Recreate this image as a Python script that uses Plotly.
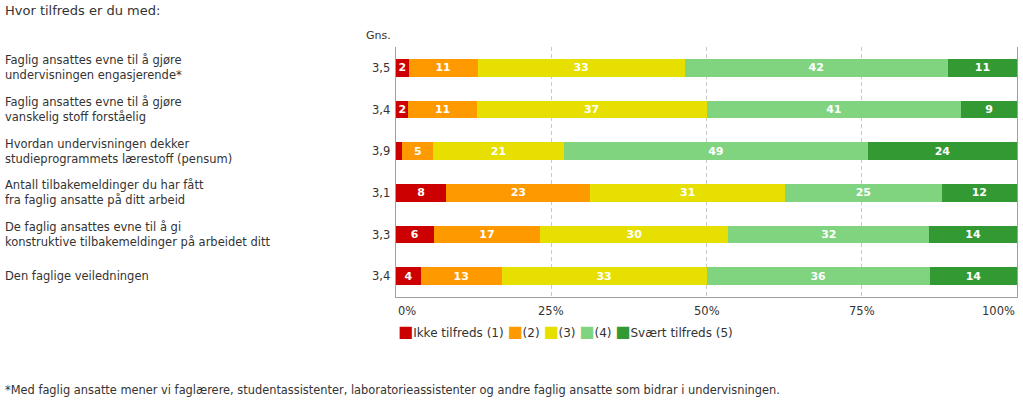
import plotly.graph_objects as go

title = "Hvor tilfreds er du med:"
questions = [
    "Faglig ansattes evne til å gjøre<br>undervisningen engasjerende*",
    "Faglig ansattes evne til å gjøre<br>vanskelig stoff forståelig",
    "Hvordan undervisningen dekker<br>studieprogrammets lærestoff (pensum)",
    "Antall tilbakemeldinger du har fått<br>fra faglig ansatte på ditt arbeid",
    "De faglig ansattes evne til å gi<br>konstruktive tilbakemeldinger på arbeidet ditt",
    "Den faglige veiledningen",
]
averages = ["3,5", "3,4", "3,9", "3,1", "3,3", "3,4"]
levels = ["Ikke tilfreds (1)", "(2)", "(3)", "(4)", "Svært tilfreds (5)"]
colors = ["#CC0000", "#FF9900", "#E6DF00", "#80D480", "#339933"]
v1 = [2, 2, 1, 8, 6, 4]
v2 = [11, 11, 5, 23, 17, 13]
v3 = [33, 37, 21, 31, 30, 33]
v4 = [42, 41, 49, 25, 32, 36]
v5 = [11, 9, 24, 12, 14, 14]
series = [v1, v2, v3, v4, v5]
tick_vals = [0, 25, 50, 75, 100]
tick_text = ["0%", "25%", "50%", "75%", "100%"]
footnote = ("*Med faglig ansatte mener vi faglærere, studentassistenter, "
            "laboratorieassistenter og andre faglig ansatte som bidrar i undervisningen.")

FONT = "Verdana, DejaVu Sans, sans-serif"
TXT = "#333333"

W, H = 1023, 407
L, R, T, B = 396, 6, 47, 110
PW, PH = W - L - R, H - T - B

def px(xp):
    return (xp - L) / PW

def py(yp):
    return (H - B - yp) / PH

fig = go.Figure()
ids = list(range(len(questions)))
for name, vals, col in zip(levels, series, colors):
    fig.add_trace(go.Bar(
        y=ids, x=vals, orientation="h", name=name,
        marker=dict(color=col, line=dict(width=0)),
        width=0.43,
        text=[str(v) if v >= 2 else "" for v in vals],
        textposition="inside", insidetextanchor="middle", textangle=0,
        textfont=dict(color="white", size=11, family=FONT, weight="bold"),
        hoverinfo="skip", showlegend=False,
    ))

ann = []
for i, (q, a) in enumerate(zip(questions, averages)):
    ann.append(dict(x=px(3), y=i, xref="paper", yref="y", text=q, showarrow=False,
                    xanchor="left", yanchor="middle", align="left",
                    font=dict(family=FONT, size=11.5, color=TXT)))
    ann.append(dict(x=px(392), y=i, xref="paper", yref="y", text=a, showarrow=False,
                    xanchor="right", yanchor="middle",
                    font=dict(family=FONT, size=11.5, color=TXT)))
ann.append(dict(x=px(393), y=py(36), xref="paper", yref="paper", text="Gns.", showarrow=False,
                xanchor="right", yanchor="middle", font=dict(family=FONT, size=11, color=TXT)))
ann.append(dict(x=px(3), y=py(10), xref="paper", yref="paper", text=title, showarrow=False,
                xanchor="left", yanchor="middle", font=dict(family=FONT, size=13, color=TXT)))
ann.append(dict(x=px(3), y=py(390), xref="paper", yref="paper", text=footnote, showarrow=False,
                xanchor="left", yanchor="middle", font=dict(family=FONT, size=11.4, color=TXT)))
for tv, tt in zip(tick_vals, tick_text):
    anchor = "left" if tv == tick_vals[0] else ("right" if tv == tick_vals[-1] else "center")
    ann.append(dict(x=tv, y=py(311), xref="x", yref="paper", text=tt, showarrow=False,
                    xanchor=anchor, yanchor="middle", font=dict(family=FONT, size=11.5, color=TXT)))
leg = " ".join(
    f'<span style="color:{c};font-size:16px">■</span>{n}' for n, c in zip(levels, colors)
)
ann.append(dict(x=0, y=py(331), xref="paper", yref="paper", text=leg, showarrow=False,
                xanchor="left", yanchor="middle", font=dict(family=FONT, size=12, color=TXT)))

fig.update_layout(
    width=W, height=H, barmode="stack", barnorm="percent",
    margin=dict(l=L, r=R, t=T, b=B),
    paper_bgcolor="white", plot_bgcolor="white",
    annotations=ann,
    uniformtext=dict(minsize=11, mode="show"),
    xaxis=dict(range=[0, 100], tickvals=[25, 50, 75], showticklabels=False,
               showgrid=True, gridcolor="#C8C8C8", griddash="4px,3px", gridwidth=1,
               showline=True, linecolor="#A0A0A0", linewidth=1, zeroline=False, fixedrange=True),
    yaxis=dict(range=[len(questions) - 0.5, -0.5], showticklabels=False, showgrid=False,
               showline=True, mirror=True, linecolor="#A0A0A0", linewidth=1,
               zeroline=False, fixedrange=True),
)
fig.write_html("out.html", config={"displayModeBar": False},
               post_script="document.body.style.margin='0';document.body.style.padding='0';")
